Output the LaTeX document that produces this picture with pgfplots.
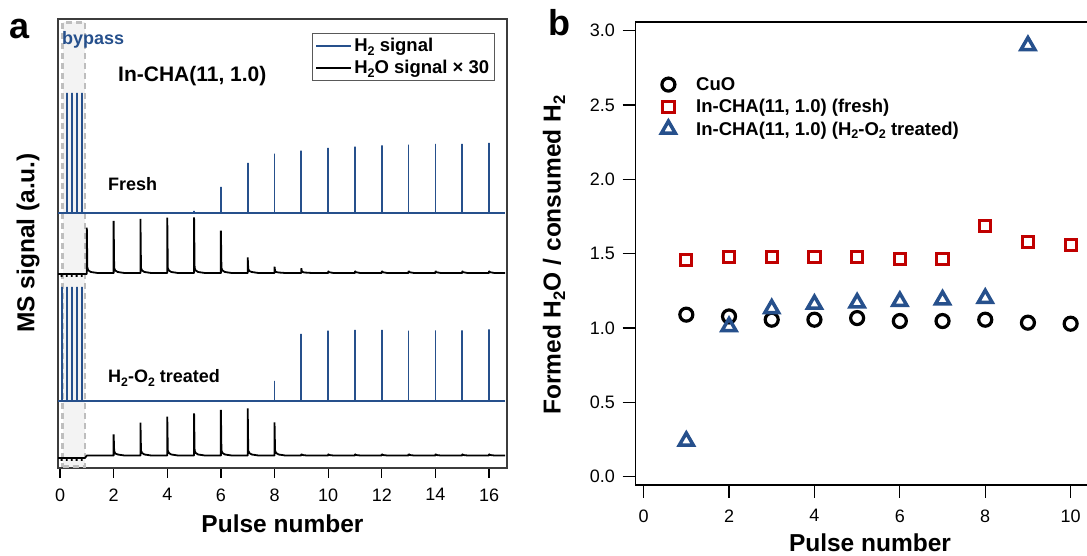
\documentclass[border=0pt]{standalone}
\usepackage{pgfplots}
\pgfplotsset{compat=1.18}
\usepackage{graphicx}
\usepackage{fontspec}
\setmainfont{Liberation Sans}
\definecolor{myblue}{RGB}{38,80,140}
\definecolor{myred}{RGB}{192,0,0}
\definecolor{framegray}{RGB}{60,60,60}
\definecolor{bpfill}{RGB}{243,243,243}
\definecolor{bpdash}{RGB}{190,190,190}
\newcommand{\fs}[1]{\fontsize{#1pt}{#1pt}\selectfont}
\newcommand{\sub}[1]{\raisebox{-0.35ex}{\scalebox{0.68}{#1}}}
\begin{document}
\begin{tikzpicture}
\useasboundingbox (0pt,0pt) rectangle (1087pt,556pt);
\clip (0pt,0pt) rectangle (1087pt,556pt);
% ---------------- panel a ----------------
\begin{axis}[
  at={(58pt,88pt)}, anchor=south west,
  scale only axis, width=449pt, height=449pt,
  xmin=-0.075, xmax=16.67, ymin=0, ymax=449,
  axis line style={line width=1.6pt, draw=framegray},
  xtick={0,2,...,16}, ytick=\empty,
  xtick pos=bottom, tick align=outside, major tick length=10pt,
  tick style={line width=1.3pt, black},
  tick label style={font=\fs{18}},
  xticklabel style={yshift=-7pt},
  /pgf/number format/assume math mode=true,
  legend style={at={(axis description cs:0.5657,0.9688)}, anchor=north west,
    draw=gray!70!black, line width=0.9pt, font=\fs{18.5}\bfseries,
    inner xsep=3pt, inner ysep=3pt, row sep=3pt,
    cells={anchor=west}},
  legend image code/.code={\draw[#1] (0pt,0pt) -- (35pt,0pt);},
]
\addplot[fill=bpfill, draw=bpdash, line width=2.5pt, dash pattern=on 6pt off 4pt, forget plot]
  coordinates {(0.1,1.3)(0.93,1.3)(0.93,445.7)(0.1,445.7)} -- cycle;
% fresh H2
\addplot[myblue, line width=1.8pt, line join=bevel] coordinates {
(-0.075,255)(0.25,255)(0.25,375)(0.25,255)(0.44,255)(0.44,375)(0.44,255)(0.62,255)(0.62,375)(0.62,255)(0.81,255)(0.81,375)(0.81,255)
(5,255)(5,257)(5,255)
(6,255)(6,281)(6,255)
(7,255)(7,305)(7,255)
(8,255)(8,314.3)(8,255)
(9,255)(9,317.3)(9,255)
(10,255)(10,320)(10,255)
(11,255)(11,321.3)(11,255)
(12,255)(12,322.7)(12,255)
(13,255)(13,323.3)(13,255)
(14,255)(14,324)(14,255)
(15,255)(15,324)(15,255)
(16,255)(16,325)(16,255)
(16.6,255)};
\addlegendentry{H\sub{2} signal}
% fresh H2O
\addplot[black, line width=1.8pt, line join=bevel] coordinates {
(-0.075,194)(0.06,194)(0.06,191)(0.06,194)(0.25,194)(0.25,191)(0.25,194)(0.44,194)(0.44,191)(0.44,194)(0.62,194)(0.62,191)(0.62,194)(0.81,194)(0.81,191)(0.81,194)(1,194)
(1,240.3)(1.02,200)(1.06,197.5)(1.15,196)(1.4,195)
(2,195)(2,247)(2.02,200)(2.06,197.5)(2.15,196)(2.4,195)
(3,195)(3,249)(3.02,200)(3.06,197.5)(3.15,196)(3.4,195)
(4,195)(4,250.3)(4.02,200)(4.06,197.5)(4.15,196)(4.4,195)
(5,195)(5,250.7)(5.02,200)(5.06,197.5)(5.15,196)(5.4,195)
(6,195)(6,237.3)(6.02,200)(6.06,197.5)(6.15,196)(6.4,195)
(7,195)(7,210.7)(7.02,199)(7.06,197)(7.15,196)(7.4,195)
(8,195)(8,201.3)(8.02,197)(8.06,196)(8.15,195.5)(8.4,195)
(9,195)(9,199.7)(9.02,196.5)(9.1,195.5)(9.4,195)
(10,195)(10,197)(10.03,195.8)(10.2,195)
(11,195)(11,197)(11.03,195.8)(11.2,195)
(12,195)(12,197)(12.03,195.8)(12.2,195)
(13,195)(13,197)(13.03,195.8)(13.2,195)
(14,195)(14,197)(14.03,195.8)(14.2,195)
(15,195)(15,197)(15.03,195.8)(15.2,195)
(16,195)(16,197)(16.03,195.8)(16.2,195)
(16.6,195)};
\addlegendentry{H\sub{2}O signal × 30}
% treated H2
\addplot[myblue, line width=1.8pt, line join=bevel, forget plot] coordinates {
(-0.075,67.3)(0.06,67.3)(0.06,181)(0.06,67.3)(0.25,67.3)(0.25,181)(0.25,67.3)(0.44,67.3)(0.44,181)(0.44,67.3)(0.62,67.3)(0.62,181)(0.62,67.3)(0.81,67.3)(0.81,181)(0.81,67.3)
(8,67.3)(8,87)(8,67.3)
(9,67.3)(9,134)(9,67.3)
(10,67.3)(10,137.3)(10,67.3)
(11,67.3)(11,138)(11,67.3)
(12,67.3)(12,138)(12,67.3)
(13,67.3)(13,137.3)(13,67.3)
(14,67.3)(14,137.7)(14,67.3)
(15,67.3)(15,137.7)(15,67.3)
(16,67.3)(16,138.7)(16,67.3)
(16.6,67.3)};
% treated H2O
\addplot[black, line width=1.8pt, line join=bevel, forget plot] coordinates {
(-0.075,10)(0.06,10)(0.06,7)(0.06,10)(0.25,10)(0.25,7)(0.25,10)(0.44,10)(0.44,7)(0.44,10)(0.62,10)(0.62,7)(0.62,10)(0.81,10)(0.81,7)(0.81,10)(0.93,10)(1.0,12.5)
(2,12.5)(2,33.7)(2.02,17)(2.06,14.5)(2.15,13.5)(2.4,12.5)
(3,12.5)(3,45.3)(3.02,17.5)(3.06,15)(3.15,13.5)(3.4,12.5)
(4,12.5)(4,51.3)(4.02,17.5)(4.06,15)(4.15,13.5)(4.4,12.5)
(5,12.5)(5,54.7)(5.02,17.5)(5.06,15)(5.15,13.5)(5.4,12.5)
(6,12.5)(6,58)(6.02,17.5)(6.06,15)(6.15,13.5)(6.4,12.5)
(7,12.5)(7,59.7)(7.02,17.5)(7.06,15)(7.15,13.5)(7.4,12.5)
(8,12.5)(8,45.7)(8.02,17.5)(8.06,15)(8.15,13.5)(8.4,12.5)
(9,12.5)(9,14)(9.03,13)(9.2,12.5)
(10,12.5)(10,14)(10.03,13)(10.2,12.5)
(11,12.5)(11,14)(11.03,13)(11.2,12.5)
(12,12.5)(12,14)(12.03,13)(12.2,12.5)
(13,12.5)(13,14)(13.03,13)(13.2,12.5)
(14,12.5)(14,14)(14.03,13)(14.2,12.5)
(15,12.5)(15,14)(15.03,13)(15.2,12.5)
(16,12.5)(16,14)(16.03,13)(16.2,12.5)
(16.6,12.5)};
\end{axis}
% texts panel a
\node[anchor=base west, font=\fs{36}\bfseries, inner sep=0pt] at (9pt,517pt) {a};
\node[anchor=base west, font=\fs{18}\bfseries, text=myblue, inner sep=0pt] at (62pt,511.7pt) {bypass};
\node[anchor=base west, font=\fs{21}\bfseries, inner sep=0pt] at (118pt,474pt) {In-CHA(11, 1.0)};
\node[anchor=base west, font=\fs{18}\bfseries, inner sep=0pt] at (108pt,365pt) {Fresh};
\node[anchor=base west, font=\fs{18}\bfseries, inner sep=0pt] at (108pt,173pt) {H\sub{2}-O\sub{2} treated};
\node[anchor=base, font=\fs{24.5}\bfseries, inner sep=0pt] at (282.5pt,23pt) {Pulse number};
\node[rotate=90, anchor=center, font=\fs{24.5}\bfseries, inner sep=0pt] at (28pt,313pt) {MS signal (a.u.)};
% ---------------- panel b ----------------
\begin{axis}[
  at={(635.5pt,71pt)}, anchor=south west,
  scale only axis, width=469.3pt, height=462.7pt,
  xmin=-0.19, xmax=10.8, ymin=-0.0558, ymax=3.0565,
  axis line style={line width=1.8pt, draw=black},
  xtick={0,2,...,10}, ytick={0,0.5,...,3},
  tick pos=left, tick align=outside, major tick length=13pt,
  tick style={line width=1.3pt, black},
  tick label style={font=\fs{18}},
  xticklabel style={yshift=-8pt},
  yticklabel style={xshift=-4pt, /pgf/number format/.cd, fixed, fixed zerofill, precision=1},
  /pgf/number format/assume math mode=true,
  legend style={at={(axis description cs:0.034,0.89)}, anchor=north west,
    draw=none, fill=none, font=\fs{18.5}\bfseries, row sep=3.5pt,
    cells={anchor=west}},
  legend image code/.code={\path (0pt,0pt) (36pt,0pt); \draw[#1] plot coordinates {(12pt,0pt)};},
]
\addplot[only marks, mark=o, mark size=6.5pt, black, line width=3.2pt] coordinates {
(1,1.09)(2,1.078)(3,1.056)(4,1.056)(5,1.067)(6,1.047)(7,1.047)(8,1.056)(9,1.036)(10,1.029)};
\addlegendentry{CuO}
\addplot[only marks, mark=square, mark size=5.6pt, myred, line width=3pt] coordinates {
(1,1.46)(2,1.478)(3,1.478)(4,1.478)(5,1.478)(6,1.466)(7,1.466)(8,1.686)(9,1.578)(10,1.556)};
\addlegendentry{In-CHA(11, 1.0) (fresh)}
\addplot[only marks, mark=triangle, mark size=8pt, myblue, line width=3.5pt] coordinates {
(1,0.24)(2,1.01)(3,1.13)(4,1.16)(5,1.17)(6,1.18)(7,1.19)(8,1.20)(9,2.90)};
\addlegendentry{In-CHA(11, 1.0) (H\sub{2}-O\sub{2} treated)}
\end{axis}
\node[anchor=base west, font=\fs{36}\bfseries, inner sep=0pt] at (548pt,520pt) {b};
\node[anchor=base, font=\fs{24.5}\bfseries, inner sep=0pt] at (870pt,4.3pt) {Pulse number};
\node[rotate=90, anchor=center, font=\fs{24.5}\bfseries, inner sep=0pt] at (554pt,301pt) {Formed H\sub{2}O / consumed H\sub{2}};
\end{tikzpicture}
\end{document}
